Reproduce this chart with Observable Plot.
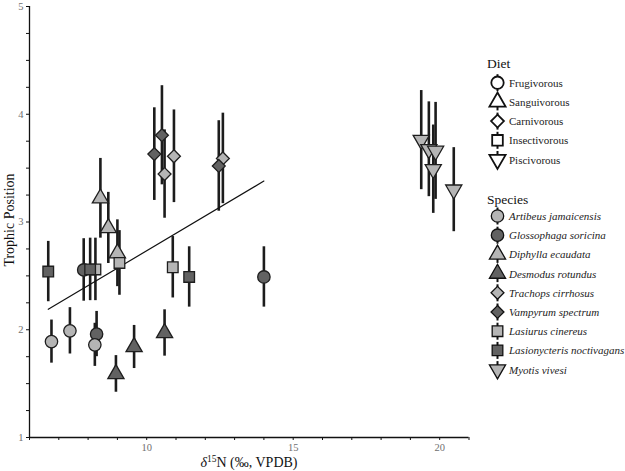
<!DOCTYPE html>
<html><head><meta charset="utf-8">
<script src="https://cdn.jsdelivr.net/npm/d3@7"></script>
<script src="https://cdn.jsdelivr.net/npm/@observablehq/plot@0.6"></script>
<style>
html,body{margin:0;padding:0;background:#fff;}
#wrap{position:relative;width:625px;height:471px;overflow:hidden;}
#wrap svg{position:absolute;left:0;top:0;}
</style></head><body><div id="wrap"></div>
<script>
// ---- data ----
const species = ["Artibeus jamaicensis","Glossophaga soricina","Diphylla ecaudata","Desmodus rotundus","Trachops cirrhosus","Vampyrum spectrum","Lasiurus cinereus","Lasionycteris noctivagans","Myotis vivesi"];
const speciesDiet = ["Frugivorous","Frugivorous","Sanguivorous","Sanguivorous","Carnivorous","Carnivorous","Insectivorous","Insectivorous","Piscivorous"];
const diets = ["Frugivorous","Sanguivorous","Carnivorous","Insectivorous","Piscivorous"];

const pointSpecies = [
  "Glossophaga soricina","Glossophaga soricina","Glossophaga soricina",
  "Artibeus jamaicensis","Artibeus jamaicensis","Artibeus jamaicensis",
  "Diphylla ecaudata","Diphylla ecaudata","Diphylla ecaudata",
  "Desmodus rotundus","Desmodus rotundus","Desmodus rotundus",
  "Trachops cirrhosus","Trachops cirrhosus","Trachops cirrhosus",
  "Vampyrum spectrum","Vampyrum spectrum","Vampyrum spectrum",
  "Lasiurus cinereus","Lasiurus cinereus","Lasiurus cinereus",
  "Lasionycteris noctivagans","Lasionycteris noctivagans","Lasionycteris noctivagans",
  "Myotis vivesi","Myotis vivesi","Myotis vivesi","Myotis vivesi","Myotis vivesi"
];
const d15N = [
  7.85, 8.29, 14.0,
  6.75, 7.38, 8.23,
  8.42, 8.69, 9.00,
  8.95, 9.57, 10.61,
  10.93, 10.61, 12.60,
  10.52, 10.26, 12.46,
  8.25, 9.07, 10.89,
  6.64, 8.07, 11.45,
  19.37, 19.63, 19.86, 19.78, 20.48
];
const trophicPos = [
  2.555, 1.96, 2.49,
  1.89, 1.99, 1.86,
  3.22, 2.945, 2.71,
  1.59, 1.84, 1.97,
  3.61, 3.445, 3.59,
  3.805, 3.63, 3.52,
  2.56, 2.62, 2.58,
  2.54, 2.56, 2.49,
  3.76, 3.675, 3.66, 3.49, 3.30
];
const tpError = [
  0.29, 0.21, 0.28,
  0.20, 0.215, 0.20,
  0.37, 0.33, 0.31,
  0.17, 0.20, 0.215,
  0.43, 0.41, 0.42,
  0.46, 0.43, 0.42,
  0.29, 0.30, 0.285,
  0.28, 0.29, 0.28,
  0.46, 0.44, 0.45, 0.41, 0.39
];
const fitD15N = [6.64, 14.0];
const fitTP = [2.19, 3.38];

const xTicks = d3.range(6, 21.5, 1);
const xTickLabels = [10, 15, 20];
const yTicks = d3.range(1, 5.01, 0.25);
const yTickLabels = [1, 2, 3, 4, 5];

// ---- styles ----
const LIGHT = "#b5b5b5", DARK = "#626262", EDGE = "#1e1e1e";
const speciesFill = {
  "Artibeus jamaicensis": LIGHT, "Glossophaga soricina": DARK,
  "Diphylla ecaudata": LIGHT, "Desmodus rotundus": DARK,
  "Trachops cirrhosus": LIGHT, "Vampyrum spectrum": DARK,
  "Lasiurus cinereus": LIGHT, "Lasionycteris noctivagans": DARK,
  "Myotis vivesi": LIGHT
};
const triangleDown = {
  draw(context, size) {
    const y = -Math.sqrt(size / (Math.sqrt(3) * 3));
    context.moveTo(0, -y * 2);
    context.lineTo(-Math.sqrt(3) * y, y);
    context.lineTo(Math.sqrt(3) * y, y);
    context.closePath();
  }
};
const dietSymbol = {
  Frugivorous: d3.symbolCircle, Sanguivorous: d3.symbolTriangle,
  Carnivorous: d3.symbolDiamond2, Insectivorous: d3.symbolSquare, Piscivorous: triangleDown
};
const dietR = {Frugivorous: 6.2, Sanguivorous: 6.0, Carnivorous: 5.8, Insectivorous: 6.0, Piscivorous: 6.0};

const rows = pointSpecies.map((s, i) => ({
  species: s, diet: speciesDiet[species.indexOf(s)],
  x: d15N[i], y: trophicPos[i], e: tpError[i]
}));
const fit = fitD15N.map((x, i) => ({x, y: fitTP[i]}));

const drawOrder = ["Glossophaga soricina","Artibeus jamaicensis","Diphylla ecaudata","Desmodus rotundus","Trachops cirrhosus","Vampyrum spectrum","Lasiurus cinereus","Lasionycteris noctivagans","Myotis vivesi"];
const dotMarks = drawOrder.map(sp => {
  const dt = speciesDiet[species.indexOf(sp)];
  return Plot.dot(rows.filter(r => r.species === sp), {
    x: "x", y: "y", symbol: dietSymbol[dt], r: dietR[dt],
    fill: speciesFill[sp], stroke: EDGE, strokeWidth: 1.3
  });
});

const chart = Plot.plot({
  width: 625, height: 471,
  marginLeft: 29, marginRight: 156.5, marginTop: 6, marginBottom: 34,
  x: {domain: [6, 21]},
  y: {domain: [1, 5]},
  style: {fontFamily: "'Liberation Serif', 'Times New Roman', serif", fontSize: "10.5px", color: "#111", background: "white"},
  marks: [
    Plot.axisX({ticks: xTicks, tickFormat: d => xTickLabels.includes(d) ? String(d) : "", tickSize: 3, tickPadding: 3, label: null}),
    Plot.axisY({ticks: yTicks, tickFormat: d => yTickLabels.includes(d) ? String(d) : "", tickSize: 3, tickPadding: 3, label: null}),
    Plot.ruleX([6], {stroke: "#111", strokeWidth: 1.3}),
    Plot.ruleY([1], {stroke: "#111", strokeWidth: 1.3}),
    Plot.ruleX(rows, {x: "x", y1: d => d.y - d.e, y2: d => d.y + d.e, stroke: "#1c1c1c", strokeWidth: 2.6}),
    Plot.line(fit, {x: "x", y: "y", stroke: "#111", strokeWidth: 1.2}),
    ...dotMarks
  ]
});
document.getElementById("wrap").appendChild(chart);

// tick label colour
chart.querySelectorAll('[aria-label$="tick label"]').forEach(g => g.setAttribute("fill", "#6f6f6f"));

// axis titles
const svg = d3.select(chart);
const xt = svg.append("text").attr("x", 249).attr("y", 467).attr("text-anchor", "middle")
  .style("font-size", "14px").attr("fill", "#111");
xt.append("tspan").style("font-style", "italic").text("δ");
xt.append("tspan").attr("dy", -5).style("font-size", "9.5px").text("15");
xt.append("tspan").attr("dy", 5).text("N (‰, VPDB)");
svg.append("text").attr("transform", "translate(14,220) rotate(-90)").attr("text-anchor", "middle")
  .style("font-size", "14px").attr("fill", "#111").text("Trophic Position");

// ---- legend ----
const leg = d3.select("#wrap").append("svg").attr("width", 625).attr("height", 471)
  .style("font-family", "'Liberation Serif', 'Times New Roman', serif").style("pointer-events", "none");
function legendKey(cx, cy, dt, fill, sw) {
  leg.append("line").attr("x1", cx).attr("x2", cx).attr("y1", cy - 8.5).attr("y2", cy + 8.5)
    .attr("stroke", "#111").attr("stroke-width", 2);
  const r = dietR[dt];
  leg.append("path").attr("transform", `translate(${cx},${cy})`)
    .attr("d", d3.symbol(dietSymbol[dt], Math.PI * r * r)())
    .attr("fill", fill).attr("stroke", "#111").attr("stroke-width", sw);
}
const LX = 487, KX = 497.5, TX = 509, STEP = 19.2;
leg.append("text").attr("x", LX).attr("y", 67.5).style("font-size", "13.5px").attr("fill", "#111").text("Diet");
diets.forEach((dt, i) => {
  const cy = 82.7 + i * STEP;
  legendKey(KX, cy, dt, "white", 1.8);
  leg.append("text").attr("x", TX).attr("y", cy + 4).style("font-size", "11px").attr("fill", "#222").text(dt);
});
leg.append("text").attr("x", LX).attr("y", 203.5).style("font-size", "13.5px").attr("fill", "#111").text("Species");
species.forEach((sp, i) => {
  const cy = 216 + i * STEP;
  legendKey(KX, cy, speciesDiet[i], speciesFill[sp], 1.3);
  leg.append("text").attr("x", TX).attr("y", cy + 4).style("font-size", "11px").style("font-style", "italic")
    .attr("fill", "#222").text(sp);
});
</script></body></html>
